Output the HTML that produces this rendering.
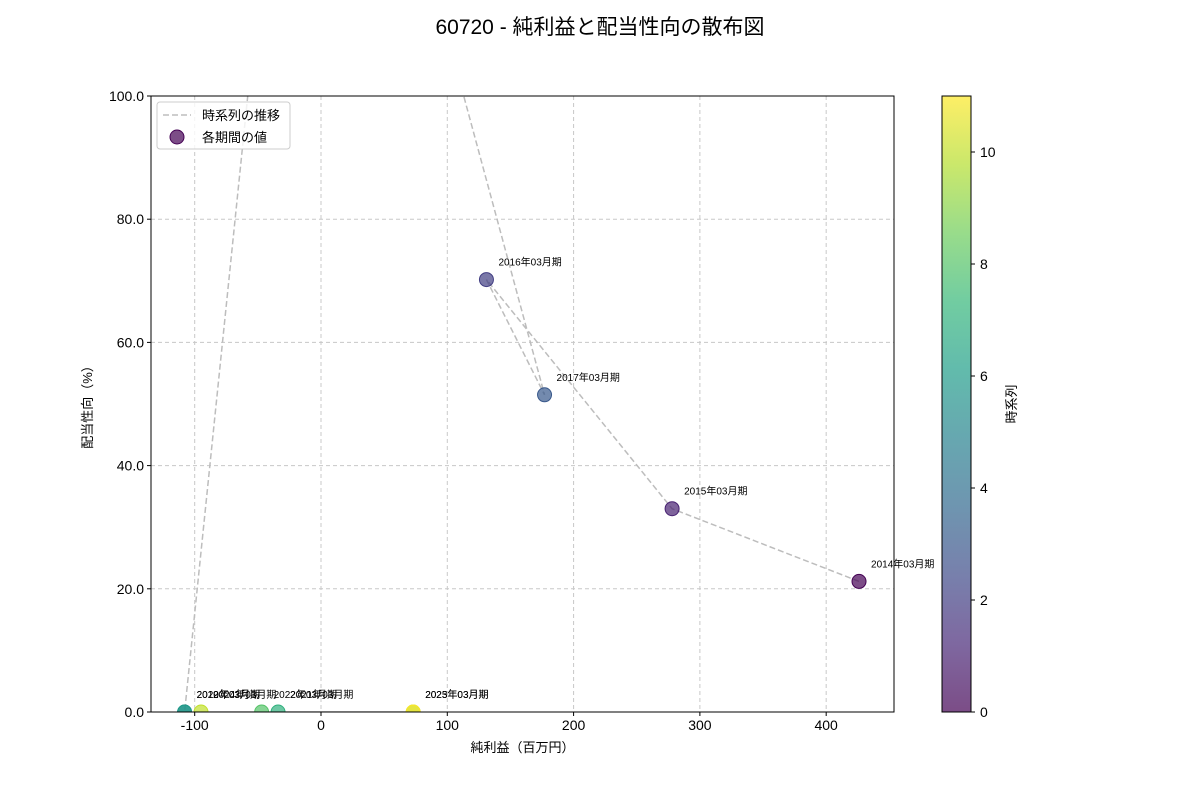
<!DOCTYPE html>
<html><head><meta charset="utf-8"><style>
body{margin:0;background:#fff}
svg{display:block;font-family:"Liberation Sans","Noto Sans CJK JP",sans-serif}
</style></head><body>
<svg id="c" width="1200" height="800"></svg>
<script>
const labels=["2014年03月期","2015年03月期","2016年03月期","2017年03月期","2018年03月期","2019年03月期","2020年03月期","2021年03月期","2022年03月期","2023年03月期","2024年03月期","2025年03月期"];
const netIncome=[426,278,131,177,-11,-108,-108,-34,-47,73,-95,73];
const payout=[21.2,33.0,70.2,51.5,194,0,0,0,0,0,0,0];
const xTicks=[-100,0,100,200,300,400];
const yTicks=[0,20,40,60,80,100];
const cbTicks=[0,2,4,6,8,10];
const NS="http://www.w3.org/2000/svg";
const svg=document.getElementById('c');
const L=151,R=894,T=96,B=712;
const xmin=-134.6,xmax=453.7,ymin=0,ymax=100;
const sx=v=>L+(v-xmin)/(xmax-xmin)*(R-L);
const sy=v=>B-(v-ymin)/(ymax-ymin)*(B-T);
const vir=[[68,1,84],[72,40,120],[62,74,137],[49,104,142],[38,130,142],[31,158,137],[53,183,121],[109,205,89],[180,222,44],[253,231,37]];
function cmap(t){t=Math.max(0,Math.min(1,t));const p=t*(vir.length-1),i=Math.min(Math.floor(p),vir.length-2),f=p-i;const a=vir[i],b=vir[i+1];return `rgb(${a.map((v,k)=>Math.round(v+(b[k]-v)*f)).join(',')})`;}
function el(tag,attrs,parent){const e=document.createElementNS(NS,tag);for(const k in attrs)e.setAttribute(k,attrs[k]);(parent||svg).appendChild(e);return e;}
function txt(s,attrs,parent){const e=el('text',attrs,parent);e.textContent=s;return e;}
const defs=el('defs',{});
const cp=el('clipPath',{id:'pc'},defs);el('rect',{x:L,y:T,width:R-L,height:B-T},cp);
const t=txt('60720 - 純利益と配当性向の散布図',{x:600,y:34,'font-size':21,'text-anchor':'middle',fill:'#000'});

const grid=el('g',{});
xTicks.forEach(v=>{el('line',{x1:sx(v),x2:sx(v),y1:T,y2:B,stroke:'#c8c8c8','stroke-dasharray':'4,3'},grid);});
yTicks.forEach(v=>{el('line',{x1:L,x2:R,y1:sy(v),y2:sy(v),stroke:'#c8c8c8','stroke-dasharray':'4,3'},grid);});
const pg=el('g',{'clip-path':'url(#pc)'});
const pts=netIncome.map((v,i)=>sx(v)+','+sy(payout[i])).join(' ');
const line=el('polyline',{points:pts,fill:'none',stroke:'#bdbdbd','stroke-width':1.5,'stroke-dasharray':'6,3'},pg);

netIncome.forEach((v,i)=>{const c=el('circle',{cx:sx(v),cy:sy(payout[i]),r:7,fill:cmap(i/11),'fill-opacity':0.7,stroke:cmap(i/11),'stroke-width':1},pg);
});
netIncome.forEach((v,i)=>{if(payout[i]>ymax)return;const a=txt(labels[i],{x:sx(v)+12,y:sy(payout[i])-14,'font-size':10,fill:'#000'});
});
const ax=el('g',{});
el('rect',{x:L,y:T,width:R-L,height:B-T,fill:'none',stroke:'#000','stroke-width':1},ax);
xTicks.forEach(v=>{el('line',{x1:sx(v),x2:sx(v),y1:B,y2:B+4,stroke:'#000'},ax);txt(String(v),{x:sx(v),y:B+18,'font-size':14,'text-anchor':'middle'},ax);});
yTicks.forEach(v=>{el('line',{x1:L-4,x2:L,y1:sy(v),y2:sy(v),stroke:'#000'},ax);txt(v.toFixed(1),{x:L-7,y:sy(v)+5,'font-size':14,'text-anchor':'end'},ax);});
const xl=txt('純利益（百万円）',{x:(L+R)/2,y:752,'font-size':13,'text-anchor':'middle'});
const yl=txt('配当性向（%）',{x:0,y:0,'font-size':13,'text-anchor':'middle',transform:`translate(92,${(T+B)/2}) rotate(-90)`});
// legend
const lg=el('g',{});
el('rect',{x:157,y:102,width:133,height:47,rx:3,fill:'#fff','fill-opacity':0.8,stroke:'#ccc'},lg);
el('line',{x1:163,x2:191,y1:115,y2:115,stroke:'#bdbdbd','stroke-width':1.5,'stroke-dasharray':'6,3'},lg);
txt('時系列の推移',{x:202,y:120,'font-size':13},lg);
el('circle',{cx:177,cy:137,r:7,fill:cmap(0),'fill-opacity':0.7,stroke:cmap(0)},lg);
txt('各期間の値',{x:202,y:142,'font-size':13},lg);
// colorbar
const cb=el('g',{});
const CL=942,CW=29;
el('rect',{x:CL-6,y:T-2,width:CW+8,height:B-T+4,fill:'#fff'},cb);
const lgd=el('linearGradient',{id:'vg',x1:0,y1:1,x2:0,y2:0},defs);
vir.forEach((c,i)=>el('stop',{offset:i/(vir.length-1),'stop-color':`rgb(${c.join(',')})`},lgd));
el('rect',{x:CL,y:T,width:CW,height:B-T,fill:'url(#vg)','fill-opacity':0.7},cb);
el('rect',{x:CL,y:T,width:CW,height:B-T,fill:'none',stroke:'#000'},cb);
cbTicks.forEach(v=>{const y=B-v/11*(B-T);el('line',{x1:CL+CW,x2:CL+CW+4,y1:y,y2:y,stroke:'#000'},cb);txt(String(v),{x:CL+CW+9,y:y+5,'font-size':14},cb);});
txt('時系列',{x:0,y:0,'font-size':13,'text-anchor':'middle',transform:`translate(1016,${(T+B)/2}) rotate(-90)`},cb);
</script>
</body></html>
